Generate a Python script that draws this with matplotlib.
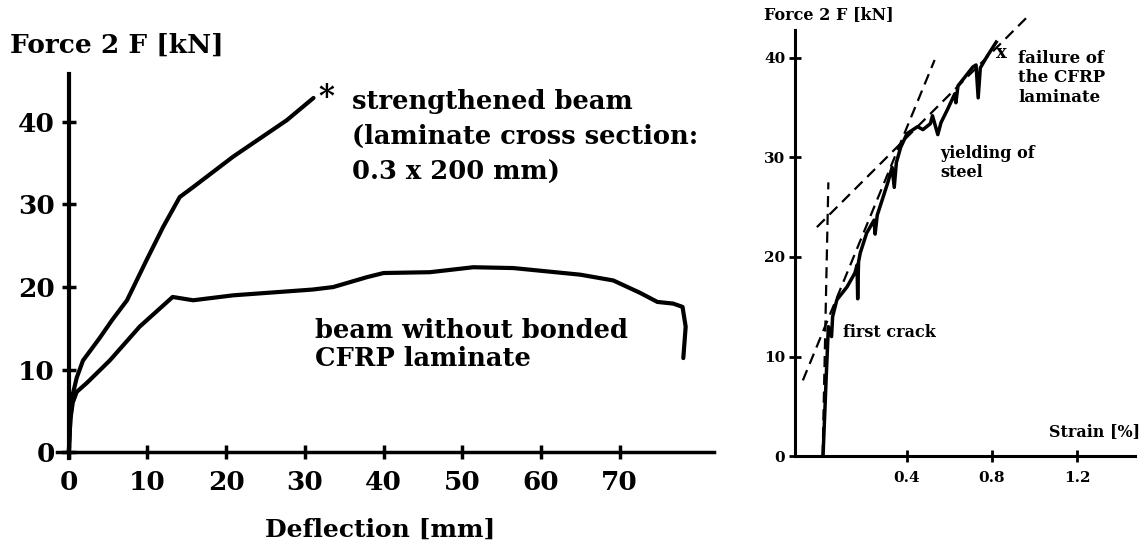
import matplotlib
matplotlib.use("Agg")
import matplotlib.pyplot as plt

plt.rcParams['font.family'] = ['DejaVu Serif']
plt.rcParams['font.weight'] = 'bold'

# ---- Left chart data: load-deflection ----
strength_x = [0, 0.2, 0.5, 1.0, 1.8, 3.9, 5.5, 7.4, 9.9, 12.0, 14.1, 15.8, 20.9, 27.7, 31.1]
strength_y = [0, 4.0, 7.0, 9.0, 11.1, 13.8, 16.0, 18.4, 23.3, 27.3, 30.9, 32.1, 35.8, 40.2, 42.9]

plain_x = [0, 0.2, 0.5, 1.0, 2.3, 5.2, 9.0, 13.2, 15.8, 20.9, 31.0, 33.6, 37.9, 40.0, 45.9,
           51.4, 56.5, 65.0, 69.2, 72.6, 74.8, 76.8, 78.0, 78.4, 78.1]
plain_y = [0, 4.0, 6.0, 7.3, 8.4, 11.1, 15.2, 18.8, 18.4, 19.0, 19.7, 20.0, 21.2, 21.7, 21.8,
           22.4, 22.3, 21.5, 20.8, 19.3, 18.2, 18.0, 17.6, 15.2, 11.4]

left_xticks = [0, 10, 20, 30, 40, 50, 60, 70]
left_yticks = [0, 10, 20, 30, 40]

# ---- Right chart data: load-strain ----
strain = [0.005, 0.02, 0.03, 0.045, 0.05, 0.07, 0.118, 0.155, 0.165, 0.168, 0.172, 0.18,
          0.21, 0.245, 0.25, 0.26, 0.31, 0.33, 0.34, 0.35, 0.37, 0.40, 0.45, 0.475, 0.51,
          0.52, 0.545, 0.56, 0.59, 0.625, 0.63, 0.64, 0.71, 0.725, 0.735, 0.745, 0.775, 0.82]
force = [0, 8, 13, 12, 14, 15.7, 17, 18.4, 19.2, 15.8, 19.5, 20.4,
         22.4, 23.7, 22.3, 24.2, 27.5, 29, 27, 29.5, 31, 32.4, 33.1, 32.8, 33.4,
         34.2, 32.3, 33.5, 34.8, 36.4, 35.5, 37.2, 39.1, 39.3, 36, 39, 40.1, 41.6]

dash_vert_x = [0.003, 0.03]
dash_vert_y = [0, 27.5]
dash_elastic_x = [-0.09, 0.53]
dash_elastic_y = [7.6, 39.8]
dash_plastic_x = [-0.024, 0.965]
dash_plastic_y = [23.0, 44.1]

right_xticks = [0.4, 0.8, 1.2]
right_xticklabels = ['0.4', '0.8', '1.2']
right_yticks = [0, 10, 20, 30, 40]

W, H = 1146, 546
fig = plt.figure(figsize=(W / 100, H / 100), dpi=100)


def fx(px):
    return px / W


def fy(py):
    return 1 - py / H


# ---- Left axes ----
lx0, lx1 = -1.5, 82.0
ly0, ly1 = -0.7, 45.8
axL = fig.add_axes([fx(57), fy(458), fx(714) - fx(57), fy(74) - fy(458)])
axL.plot(strength_x, strength_y, color='black', lw=3, solid_capstyle='round')
axL.plot(plain_x, plain_y, color='black', lw=3, solid_capstyle='round')
axL.set_xlim(lx0, lx1)
axL.set_ylim(ly0, ly1)
for s in ['top', 'right']:
    axL.spines[s].set_visible(False)
axL.spines['left'].set_position(('data', 0))
axL.spines['bottom'].set_position(('data', 0))
axL.spines['left'].set_linewidth(3)
axL.spines['bottom'].set_linewidth(2.5)
axL.set_xticks(left_xticks)
axL.set_yticks(left_yticks)
axL.tick_params(direction='inout', length=10, width=2.5, labelsize=19, pad=8)
axL.tick_params(axis='y', pad=5)
for lab in axL.get_xticklabels() + axL.get_yticklabels():
    lab.set_fontweight('bold')

axL.text(32.8, 43.0, '*', fontsize=22, ha='center', va='center', fontweight='bold')
# multi-line text: 'baseline' anchors the last line's baseline
axL.text(36.0, 33.0, 'strengthened beam\n(laminate cross section:\n0.3 x 200 mm)',
         fontsize=18.5, ha='left', va='baseline', fontweight='bold', linespacing=1.52)
axL.text(31.3, 10.5, 'beam without bonded\nCFRP laminate', fontsize=18.5, ha='left',
         va='baseline', fontweight='bold', linespacing=1.12)

fig.text(fx(10), fy(53), 'Force 2 F [kN]', fontsize=19, ha='left', va='baseline',
         fontweight='bold')
fig.text(fx(380), fy(537), 'Deflection [mm]', fontsize=18, ha='center', va='baseline',
         fontweight='bold')

# ---- Right axes ----
rx0, rx1 = -0.127, 1.473
ry0, ry1 = 0, 45.0
axR = fig.add_axes([fx(795), fy(456), fx(1135) - fx(795), fy(456 - ry1 * 9.95) - fy(456)])
axR.plot(strain, force, color='black', lw=2.5)
axR.plot(dash_vert_x, dash_vert_y, color='black', lw=1.6, ls=(0, (5, 3)))
axR.plot(dash_elastic_x, dash_elastic_y, color='black', lw=1.6, ls=(0, (5, 3)))
axR.plot(dash_plastic_x, dash_plastic_y, color='black', lw=1.6, ls=(0, (5, 3)))
axR.set_xlim(rx0, rx1)
axR.set_ylim(ry0, ry1)
for s in ['top', 'right']:
    axR.spines[s].set_visible(False)
axR.spines['left'].set_bounds(0, 42.8)
axR.spines['left'].set_linewidth(2.2)
axR.spines['bottom'].set_linewidth(2.2)
axR.set_xticks(right_xticks)
axR.set_xticklabels(right_xticklabels)
axR.set_yticks(right_yticks)
axR.tick_params(direction='inout', length=8, width=2, labelsize=11, pad=7)
axR.tick_params(axis='y', pad=3)
for lab in axR.get_xticklabels() + axR.get_yticklabels():
    lab.set_fontweight('bold')

axR.text(0.842, 40.5, 'x', fontsize=13, ha='center', va='center', fontweight='bold')
axR.text(0.922, 35.6, 'failure of\nthe CFRP\nlaminate', fontsize=12, ha='left',
         va='baseline', fontweight='bold', linespacing=1.2)
axR.text(0.555, 28.0, 'yielding of\nsteel', fontsize=11.5, ha='left', va='baseline',
         fontweight='bold', linespacing=1.2)
axR.text(0.099, 12.0, 'first crack', fontsize=11.5, ha='left', va='baseline',
         fontweight='bold')

fig.text(fx(764), fy(19), 'Force 2 F [kN]', fontsize=11.5, ha='left', va='baseline',
         fontweight='bold')
fig.text(fx(1140), fy(436), 'Strain [%]', fontsize=11.5, ha='right', va='baseline',
         fontweight='bold')

fig.savefig('out.png', dpi=100, facecolor='white')
